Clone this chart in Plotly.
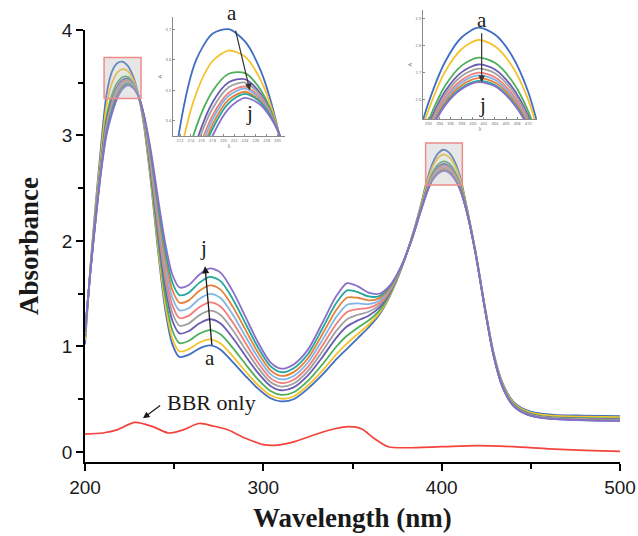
import plotly.graph_objects as go

# Wavelength grid (nm) shared by the titration spectra a-j
wavelength = [200, 203, 206, 209, 212, 215, 218, 221, 224, 227, 230, 233, 237, 241, 245, 249,
              253, 258, 264, 270, 276, 283, 290, 297, 304, 310, 317, 325, 333, 341, 347, 353,
              359, 365, 371, 377, 383, 388, 392, 395, 398, 401, 404, 407, 410, 414, 419, 424,
              429, 434, 440, 447, 455, 465, 480, 500]

abs_a = [1.02, 1.75, 2.35, 2.90, 3.38, 3.60, 3.685, 3.70, 3.66, 3.56, 3.38, 3.10, 2.55, 1.90, 1.35, 1.02,
         0.90, 0.92, 0.98, 1.01, 0.97, 0.85, 0.72, 0.60, 0.51, 0.48, 0.50, 0.60, 0.73, 0.88, 0.98, 1.08,
         1.18, 1.30, 1.48, 1.72, 2.02, 2.32, 2.59, 2.74, 2.83, 2.865, 2.84, 2.765, 2.63, 2.33, 1.90, 1.40,
         0.95, 0.66, 0.48, 0.40, 0.365, 0.35, 0.345, 0.34]
abs_b = [1.06, 1.74, 2.31, 2.83, 3.28, 3.49, 3.595, 3.63, 3.61, 3.53, 3.377, 3.127, 2.574, 1.94, 1.40, 1.073,
         0.953, 0.973, 1.036, 1.068, 1.028, 0.904, 0.765, 0.635, 0.537, 0.505, 0.526, 0.63, 0.769, 0.928, 1.03, 1.119,
         1.206, 1.316, 1.488, 1.722, 2.018, 2.309, 2.563, 2.704, 2.787, 2.82, 2.797, 2.727, 2.601, 2.319, 1.896, 1.396,
         0.943, 0.651, 0.471, 0.391, 0.356, 0.341, 0.335, 0.33]
abs_c = [1.09, 1.72, 2.27, 2.76, 3.17, 3.38, 3.497, 3.554, 3.556, 3.498, 3.374, 3.156, 2.61, 2.00, 1.476, 1.152,
         1.032, 1.052, 1.12, 1.156, 1.116, 0.984, 0.832, 0.688, 0.578, 0.542, 0.566, 0.674, 0.828, 1.00, 1.104, 1.178,
         1.246, 1.34, 1.50, 1.726, 2.016, 2.293, 2.524, 2.652, 2.726, 2.755, 2.736, 2.672, 2.559, 2.303, 1.889, 1.389,
         0.934, 0.638, 0.458, 0.378, 0.343, 0.328, 0.32, 0.315]
abs_d = [1.11, 1.72, 2.25, 2.73, 3.13, 3.33, 3.46, 3.526, 3.536, 3.486, 3.373, 3.167, 2.652, 2.07, 1.564, 1.244,
         1.124, 1.144, 1.218, 1.258, 1.218, 1.078, 0.91, 0.75, 0.626, 0.585, 0.612, 0.726, 0.897, 1.084, 1.191, 1.247,
         1.292, 1.368, 1.514, 1.73, 2.013, 2.286, 2.509, 2.632, 2.702, 2.73, 2.712, 2.65, 2.542, 2.296, 1.887, 1.387,
         0.93, 0.633, 0.453, 0.373, 0.338, 0.323, 0.315, 0.31]
abs_e = [1.12, 1.71, 2.24, 2.72, 3.10, 3.31, 3.44, 3.51, 3.525, 3.48, 3.373, 3.173, 2.685, 2.125, 1.634, 1.317,
         1.197, 1.217, 1.295, 1.339, 1.299, 1.152, 0.972, 0.798, 0.663, 0.62, 0.649, 0.767, 0.951, 1.15, 1.259, 1.301,
         1.329, 1.39, 1.525, 1.734, 2.011, 2.283, 2.50, 2.62, 2.688, 2.715, 2.698, 2.638, 2.533, 2.293, 1.885, 1.385,
         0.928, 0.63, 0.45, 0.37, 0.335, 0.32, 0.311, 0.306]
abs_f = [1.12, 1.71, 2.23, 2.70, 3.08, 3.28, 3.417, 3.492, 3.512, 3.472, 3.372, 3.18, 2.718, 2.18, 1.703, 1.39,
         1.27, 1.29, 1.372, 1.419, 1.379, 1.225, 1.034, 0.846, 0.70, 0.654, 0.685, 0.807, 1.004, 1.216, 1.327, 1.354,
         1.365, 1.412, 1.536, 1.737, 2.009, 2.279, 2.491, 2.608, 2.673, 2.70, 2.683, 2.625, 2.523, 2.289, 1.884, 1.384,
         0.925, 0.627, 0.447, 0.367, 0.332, 0.317, 0.308, 0.303]
abs_g = [1.13, 1.71, 2.22, 2.69, 3.06, 3.26, 3.404, 3.482, 3.505, 3.468, 3.372, 3.184, 2.751, 2.235, 1.772, 1.462,
         1.342, 1.362, 1.449, 1.499, 1.459, 1.299, 1.095, 0.895, 0.738, 0.688, 0.721, 0.848, 1.058, 1.282, 1.395, 1.408,
         1.401, 1.434, 1.547, 1.74, 2.007, 2.276, 2.485, 2.60, 2.664, 2.69, 2.674, 2.616, 2.516, 2.286, 1.883, 1.383,
         0.924, 0.625, 0.445, 0.365, 0.33, 0.315, 0.306, 0.301]
abs_h = [1.14, 1.71, 2.22, 2.68, 3.04, 3.24, 3.387, 3.469, 3.495, 3.462, 3.371, 3.189, 2.784, 2.29, 1.841, 1.535,
         1.415, 1.435, 1.526, 1.579, 1.539, 1.373, 1.157, 0.943, 0.775, 0.722, 0.757, 0.889, 1.112, 1.348, 1.464, 1.462,
         1.437, 1.456, 1.558, 1.743, 2.004, 2.274, 2.479, 2.592, 2.654, 2.68, 2.664, 2.608, 2.51, 2.284, 1.882, 1.382,
         0.922, 0.623, 0.443, 0.363, 0.328, 0.313, 0.303, 0.298]
abs_i = [1.14, 1.70, 2.21, 2.67, 3.03, 3.23, 3.373, 3.458, 3.488, 3.458, 3.371, 3.193, 2.817, 2.345, 1.911, 1.607,
         1.487, 1.507, 1.603, 1.66, 1.62, 1.446, 1.218, 0.992, 0.813, 0.756, 0.794, 0.929, 1.166, 1.414, 1.532, 1.516,
         1.474, 1.478, 1.569, 1.747, 2.002, 2.271, 2.473, 2.584, 2.645, 2.67, 2.655, 2.599, 2.503, 2.281, 1.881, 1.381,
         0.921, 0.621, 0.441, 0.361, 0.326, 0.311, 0.301, 0.296]
abs_j = [1.15, 1.70, 2.20, 2.65, 3.00, 3.20, 3.35, 3.44, 3.475, 3.45, 3.37, 3.20, 2.85, 2.40, 1.98, 1.68,
         1.56, 1.58, 1.68, 1.74, 1.70, 1.52, 1.28, 1.04, 0.85, 0.79, 0.83, 0.97, 1.22, 1.48, 1.60, 1.57,
         1.51, 1.50, 1.58, 1.75, 2.00, 2.27, 2.47, 2.58, 2.64, 2.665, 2.65, 2.595, 2.50, 2.28, 1.88, 1.38,
         0.92, 0.62, 0.44, 0.36, 0.325, 0.31, 0.30, 0.295]

series_labels = ["a", "b", "c", "d", "e", "f", "g", "h", "i", "j"]
series_values = [abs_a, abs_b, abs_c, abs_d, abs_e, abs_f, abs_g, abs_h, abs_i, abs_j]
series_colors = ["#3F6EC2", "#F3C22C", "#4DAF5A", "#6A5BB3", "#A0A0A0",
                 "#F27E7A", "#7FB5E6", "#E4813A", "#23A79C", "#8A6ECB"]

# Berberine alone
bbr_wavelength = [200, 210, 218, 228, 238, 247, 255, 264, 272, 280, 290, 300, 308, 318, 330, 340,
                  348, 355, 362, 370, 380, 400, 420, 440, 460, 480, 500]
bbr_only = [0.17, 0.18, 0.21, 0.28, 0.24, 0.18, 0.21, 0.27, 0.245, 0.21, 0.13, 0.07, 0.065, 0.10, 0.17, 0.22,
            0.24, 0.22, 0.13, 0.05, 0.04, 0.05, 0.06, 0.05, 0.03, 0.015, 0.005]

x_ticks = [200, 300, 400, 500]
y_ticks = [0, 1, 2, 3, 4]

W, H = 638, 536


def px_x(p):
    return p / W


def px_y(p):
    return 1 - p / H


fig = go.Figure()

axis_pairs = [("x", "y"), ("x2", "y2"), ("x3", "y3")]
for xa, ya in axis_pairs:
    for name, ys, col in zip(series_labels, series_values, series_colors):
        fig.add_trace(go.Scatter(
            x=wavelength, y=ys, mode="lines", name=name,
            line=dict(color=col, width=1.8, shape="spline", smoothing=0.8),
            xaxis=xa, yaxis=ya, showlegend=False, hoverinfo="skip"))

fig.add_trace(go.Scatter(
    x=bbr_wavelength, y=bbr_only, mode="lines", name="BBR only",
    line=dict(color="#F2433D", width=1.7, shape="spline", smoothing=0.8),
    showlegend=False, hoverinfo="skip"))

tick_font = dict(family="Liberation Sans, Arial, sans-serif", size=19, color="#1a1a1a")
serif = "Liberation Serif, Times New Roman, serif"

inset_axis = dict(showline=True, linecolor="#8a8a8a", linewidth=1, ticks="inside",
                  ticklen=2, tickcolor="#8a8a8a", tickwidth=0.8, showgrid=False,
                  zeroline=False, automargin=False, tickfont=dict(size=4, color="#666"))

fig.update_layout(
    width=W, height=H,
    margin=dict(l=0, r=0, t=0, b=0, autoexpand=False),
    paper_bgcolor="white", plot_bgcolor="rgba(0,0,0,0)",
    xaxis=dict(domain=[px_x(85), px_x(620)], anchor="y", range=[200, 500], automargin=False,
               tickvals=x_ticks, ticks="outside", ticklen=7, tickwidth=1.5, tickcolor="black",
               showline=True, linecolor="black", linewidth=1.5, showgrid=False, zeroline=False,
               tickfont=tick_font,
               minor=dict(tickvals=[250, 350, 450], ticks="outside", ticklen=5,
                          tickwidth=1.5, tickcolor="black", showgrid=False)),
    yaxis=dict(domain=[px_y(462), px_y(30)], anchor="x", range=[-0.095, 4.0], automargin=False,
               tickvals=y_ticks, ticks="outside", ticklen=7, tickwidth=1.5, tickcolor="black",
               showline=True, linecolor="black", linewidth=1.5, showgrid=False, zeroline=False,
               tickfont=tick_font,
               minor=dict(tickvals=[0.5, 1.5, 2.5, 3.5], ticks="outside", ticklen=5,
                          tickwidth=1.5, tickcolor="black", showgrid=False)),
    xaxis2=dict(inset_axis, domain=[px_x(173), px_x(285)], anchor="y2",
                range=[210.7, 231.4], dtick=2, tick0=212,
                title=dict(text="λ", font=dict(size=5, color="#666"), standoff=1)),
    yaxis2=dict(inset_axis, domain=[px_y(136), px_y(17)], anchor="x2",
                range=[3.35, 3.74], dtick=0.1, tick0=3.4,
                title=dict(text="A", font=dict(size=6, color="#666"), standoff=2)),
    xaxis3=dict(inset_axis, domain=[px_x(423), px_x(537)], anchor="y3",
                range=[391, 411.6], dtick=2, tick0=392,
                title=dict(text="λ", font=dict(size=5, color="#666"), standoff=1)),
    yaxis3=dict(inset_axis, domain=[px_y(119), px_y(10)], anchor="x3",
                range=[2.53, 2.93], dtick=0.1, tick0=2.6,
                title=dict(text="A", font=dict(size=6, color="#666"), standoff=2)),
)

# Highlight boxes around the two absorption maxima
for x0, x1, y0, y1 in [(210.7, 231.4, 3.35, 3.74), (391, 411.6, 2.53, 2.93)]:
    fig.add_shape(type="rect", xref="x", yref="y", x0=x0, x1=x1, y0=y0, y1=y1,
                  fillcolor="rgba(185,185,185,0.35)", line=dict(color="#F08C8C", width=1.5),
                  layer="above")

label_font = dict(family=serif, size=21, color="#1a1a1a")


def arrow(xref, yref, tip, tail, width=1.3, color="#1a1a1a"):
    return dict(text="", xref=xref, yref=yref, x=tip[0], y=tip[1],
                axref=xref, ayref=yref, ax=tail[0], ay=tail[1], showarrow=True,
                arrowhead=2, arrowsize=1.1, arrowwidth=width, arrowcolor=color)


def label(text, xref, yref, x, y, font=label_font):
    return dict(text=text, xref=xref, yref=yref, x=x, y=y, showarrow=False,
                xanchor="center", yanchor="middle", font=font)


annotations = [
    # axis titles
    dict(text="<b>Absorbance</b>", xref="paper", yref="paper", x=px_x(29), y=px_y(246),
         xanchor="center", yanchor="middle", textangle=-90, showarrow=False,
         font=dict(family=serif, size=27, color="#1a1a1a")),
    dict(text="<b>Wavelength (nm)</b>", xref="paper", yref="paper", x=px_x(352), y=px_y(518),
         xanchor="center", yanchor="middle", showarrow=False,
         font=dict(family=serif, size=27, color="#1a1a1a")),
    # main titration arrow a -> j
    arrow("x", "y", (267.3, 1.76), (271.2, 1.0)),
    label("a", "x", "y", 270.3, 0.89),
    label("j", "x", "y", 266.2, 1.93),
    # BBR only label
    label("BBR only", "x", "y", 270.7, 0.47, dict(family=serif, size=22, color="#1a1a1a")),
    arrow("x", "y", (232.5, 0.32), (243.0, 0.45), width=1.2),
    # inset at the 220 nm band
    arrow("x2", "y2", (224.9, 3.50), (222.2, 3.70), width=1.2, color="#333"),
    label("a", "paper", "paper", px_x(232), px_y(13)),
    label("j", "x2", "y2", 224.9, 3.425),
    # inset at the 400 nm band
    arrow("x3", "y3", (401.6, 2.665), (401.6, 2.85), width=1.2, color="#333"),
    label("a", "x3", "y3", 401.6, 2.895),
    label("j", "x3", "y3", 401.8, 2.58),
]
fig.update_layout(annotations=annotations)

fig.write_html("out.html")
